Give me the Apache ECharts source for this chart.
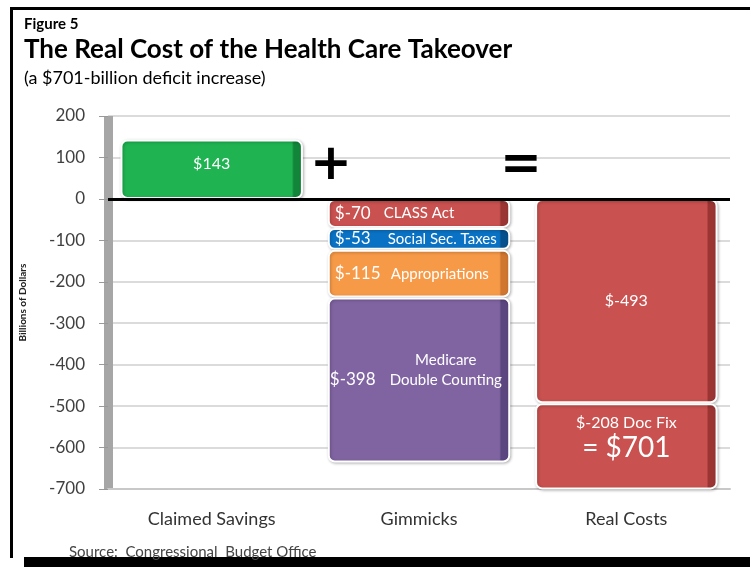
<!DOCTYPE html>
<html>
<head>
<meta charset="utf-8">
<script src="https://cdn.jsdelivr.net/npm/echarts@6/dist/echarts.min.js"></script>
<style>
  html, body { margin: 0; padding: 0; background: #fff; }
  #main { width: 750px; height: 567px; }
</style>
</head>
<body>
<div id="main"></div>
<script>
// 数据
var categories = ['Claimed Savings', 'Gimmicks', 'Real Costs'];
var claimedValues = [143];
var gimmickNames = ['CLASS Act', 'Social Sec. Taxes', 'Appropriations', 'Medicare\nDouble Counting'];
var gimmickValues = [-70, -53, -115, -398];
var realNames = ['', 'Doc Fix'];
var realValues = [-493, -208];
var yMin = -700, yMax = 200, yStep = 100;

var FONT = 'Lato, "Noto Sans", sans-serif';

// 柱子样式：正面 + 暗色侧面
function face(base, dark) {
    return {
        color: new echarts.graphic.LinearGradient(0, 0, 1, 0, [
            { offset: 0, color: base },
            { offset: 0.94, color: base },
            { offset: 0.95, color: dark },
            { offset: 1, color: dark }
        ]),
        borderRadius: 6,
        borderColor: '#fff',
        borderWidth: 2,
        shadowColor: 'rgba(0,0,0,0.25)',
        shadowBlur: 3,
        shadowOffsetX: 1,
        shadowOffsetY: 1
    };
}

function onlyAt(idx, v) {
    return categories.map(function (c, i) { return i === idx ? v : '-'; });
}

var gimmickColors = [['#c9514f', '#9a3533'], ['#0a72c4', '#05508c'], ['#f79a48', '#cf7630'], ['#8064a2', '#5c4680']];
var gimmickValueWidth = [49, 53, 56, 58];
var realColors = [['#c9514f', '#9a3533'], ['#c9514f', '#9a3533']];

var series = [];

series.push({
    name: 'Claimed Savings',
    type: 'bar',
    stack: 'total',
    barWidth: '88%',
    data: onlyAt(0, claimedValues[0]),
    itemStyle: face('#1fb352', '#12853a'),
    label: {
        show: true,
        position: 'inside',
        offset: [0, -5],
        color: '#fff',
        fontFamily: FONT,
        fontSize: 16,
        formatter: function (p) { return '$' + p.value; }
    },
    markLine: {
        silent: true,
        symbol: 'none',
        label: { show: false },
        lineStyle: { color: '#000', width: 3, type: 'solid' },
        data: [{ yAxis: 0 }]
    }
});

gimmickNames.forEach(function (name, i) {
    var multi = name.indexOf('\n') >= 0;
    series.push({
        name: name,
        type: 'bar',
        stack: 'total',
        barWidth: '88%',
        data: onlyAt(1, gimmickValues[i]),
        itemStyle: face(gimmickColors[i][0], gimmickColors[i][1]),
        label: {
            show: true,
            position: 'insideLeft',
            distance: multi ? 2 : 7,
            offset: multi ? [0, -10] : [0, 0],
            color: '#fff',
            fontFamily: FONT,
            formatter: function (p) {
                if (multi) {
                    var parts = p.seriesName.split('\n');
                    return '{g|}{n|' + parts[0] + '}\n{v|$' + p.value + '}{n|' + parts[1] + '}';
                }
                return '{v|$' + p.value + '}{n|' + p.seriesName + '}';
            },
            rich: {
                v: { fontSize: 17, color: '#fff', fontFamily: FONT, width: gimmickValueWidth[i], lineHeight: 20 },
                g: { width: gimmickValueWidth[i], lineHeight: 20 },
                n: { fontSize: 15, color: '#fff', fontFamily: FONT, width: multi ? 116 : null, align: multi ? 'center' : 'left', lineHeight: 20 }
            }
        }
    });
});

var realTotal = -realValues.reduce(function (a, b) { return a + b; }, 0);

realNames.forEach(function (name, i) {
    var last = i === realNames.length - 1;
    series.push({
        name: name || 'Real',
        type: 'bar',
        stack: 'total',
        barWidth: '88%',
        data: onlyAt(2, realValues[i]),
        itemStyle: face(realColors[i][0], realColors[i][1]),
        label: {
            show: true,
            position: 'inside',
            offset: last ? [0, -8] : [0, 0],
            color: '#fff',
            fontFamily: FONT,
            fontSize: 16,
            formatter: function (p) {
                if (last) {
                    return '{a|$' + p.value + ' ' + name + '}\n{b|= $' + realTotal + '}';
                }
                return '$' + p.value;
            },
            rich: {
                a: { fontSize: 16, color: '#fff', fontFamily: FONT, lineHeight: 20 },
                b: { fontSize: 28, color: '#fff', fontFamily: FONT, lineHeight: 30 }
            }
        }
    });
});

var myChart = echarts.init(document.getElementById('main'));

var option = {
    backgroundColor: '#fff',
    animation: false,
    title: [
        { text: 'Figure 5', left: 19, top: 12, textStyle: { fontFamily: FONT, fontWeight: 'bold', fontSize: 15, color: '#000' } },
        { text: 'The Real Cost of the Health Care Takeover', left: 19, top: 32, textStyle: { fontFamily: FONT, fontWeight: 'bold', fontSize: 26, color: '#000' } },
        { text: '(a $701-billion deficit increase)', left: 19, top: 64, textStyle: { fontFamily: FONT, fontWeight: 'normal', fontSize: 18, color: '#000' } },
        { text: 'Source:  Congressional  Budget Office', left: 64, top: 540, textStyle: { fontFamily: FONT, fontWeight: 'normal', fontSize: 15, color: '#444' } }
    ],
    grid: {
        left: 108,
        right: 20,
        top: 116,
        bottom: 78
    },
    xAxis: {
        type: 'category',
        data: categories,
        axisLine: {
            onZero: false,
            lineStyle: { color: '#c8c8c8', width: 2 }
        },
        axisTick: { show: false },
        axisLabel: {
            fontFamily: FONT,
            fontSize: 18,
            color: '#333',
            margin: 21
        }
    },
    yAxis: {
        type: 'value',
        min: yMin,
        max: yMax,
        interval: yStep,
        name: 'Billions of Dollars',
        nameLocation: 'middle',
        nameGap: 80,
        nameTextStyle: { fontFamily: FONT, fontWeight: 'bold', fontSize: 10, color: '#222' },
        axisLine: {
            show: true,
            lineStyle: { color: '#a6a6a6', width: 9, cap: 'butt' }
        },
        axisTick: {
            show: true,
            length: 9,
            lineStyle: { color: '#999' }
        },
        axisLabel: {
            fontFamily: FONT,
            fontSize: 17,
            color: '#404040',
            margin: 23
        },
        splitLine: {
            lineStyle: { color: '#cfcfcf', width: 1.5 }
        }
    },
    graphic: [
        // 外框
        { type: 'rect', shape: { x: 10, y: 7, width: 740, height: 3 }, style: { fill: '#000' } },
        { type: 'rect', shape: { x: 10, y: 7, width: 3, height: 551 }, style: { fill: '#000' } },
        { type: 'rect', shape: { x: 24, y: 557, width: 726, height: 10 }, style: { fill: '#000' } },
        // 加号、等号
        { type: 'text', x: 331, y: 166, z: 10, style: { text: '+', fontSize: 50, fontWeight: 'bold', fontFamily: '"DejaVu Sans"', fill: '#000', align: 'center', verticalAlign: 'middle' } },
        { type: 'text', x: 521, y: 166, z: 10, style: { text: '=', fontSize: 50, fontWeight: 'bold', fontFamily: '"DejaVu Sans"', fill: '#000', align: 'center', verticalAlign: 'middle' } }
    ],
    series: series
};

myChart.setOption(option);
</script>
</body>
</html>
